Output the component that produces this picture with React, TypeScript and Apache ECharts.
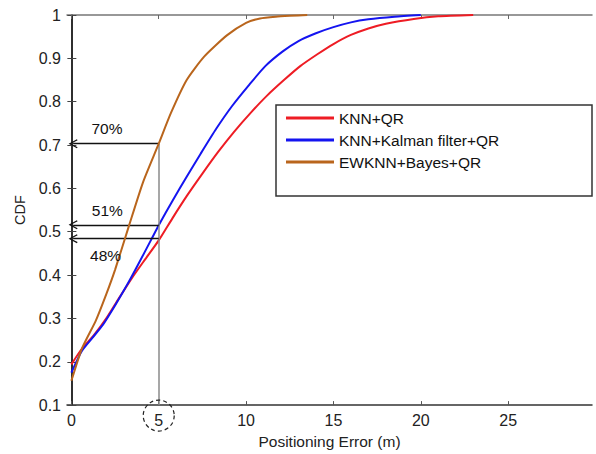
import React, { useEffect, useRef } from "react";
import * as echarts from "echarts";

const seriesNames = ["KNN+QR", "KNN+Kalman filter+QR", "EWKNN+Bayes+QR"];

const redX = [0, 0.6, 1.3, 2.0, 2.7, 3.5, 4.2, 5.0, 5.8, 6.6, 7.5, 8.4, 9.3, 10.3, 11.2, 12.2, 13.1, 14.1, 15.0, 16.0, 17.0, 18.0, 19.6, 21.0, 23.0];
const redY = [0.194, 0.23, 0.262, 0.3, 0.345, 0.395, 0.435, 0.48, 0.532, 0.582, 0.634, 0.684, 0.73, 0.776, 0.814, 0.851, 0.882, 0.91, 0.933, 0.954, 0.969, 0.98, 0.991, 0.997, 1.0];

const blueX = [0, 0.6, 1.2, 1.8, 2.5, 3.2, 3.7, 4.6, 5.0, 5.8, 6.6, 7.4, 8.3, 9.2, 10.2, 11.1, 12.1, 13.0, 14.0, 15.0, 16.0, 17.0, 18.5, 20.0];
const blueY = [0.175, 0.225, 0.255, 0.285, 0.33, 0.378, 0.415, 0.484, 0.515, 0.572, 0.627, 0.68, 0.738, 0.79, 0.84, 0.882, 0.916, 0.94, 0.958, 0.972, 0.983, 0.99, 0.996, 1.0];

const brownX = [0, 0.6, 1.4, 2.0, 2.5, 3.3, 4.1, 5.0, 5.7, 6.6, 7.6, 8.9, 10.0, 10.8, 11.7, 12.5, 13.5];
const brownY = [0.156, 0.23, 0.295, 0.356, 0.412, 0.514, 0.614, 0.703, 0.774, 0.85, 0.904, 0.953, 0.982, 0.992, 0.996, 0.998, 1.0];

const xTicks = [0, 5, 10, 15, 20, 25];

// annotation values: error threshold and CDF levels at that threshold
const markX = 5;
const markLevels = [0.703, 0.516, 0.484];
const markTexts = ["70%", "51%", "48%"];
const markTextPos = [
  [2.04, 0.737],
  [2.06, 0.549],
  [1.96, 0.446],
];

const colors = ["#ee1c24", "#1414f0", "#b9651c"];

const chevron = "path://M5,0 L10,9 L8.8,9.8 L5,2.6 L1.2,9.8 L0,9 Z";

const zip = (xs: number[], ys: number[]) => xs.map((x, i) => [x, ys[i]]);

export default function App() {
  const ref = useRef<HTMLDivElement>(null);
  useEffect(() => {
    if (!ref.current) return;
    const chart = echarts.init(ref.current, undefined, { renderer: "svg" });
    const font = "Liberation Sans, Arial, sans-serif";
    const xMin = -0.25;
    const xMax = 29.8;
    chart.setOption({
      animation: false,
      backgroundColor: "#ffffff",
      textStyle: { fontFamily: font },
      grid: { left: 67, top: 15, right: 4, bottom: 46 },
      legend: {
        data: seriesNames,
        orient: "vertical",
        left: 286,
        top: 110,
        padding: 0,
        itemWidth: 48,
        itemHeight: 3,
        itemGap: 6,
        icon: "rect",
        textStyle: { fontSize: 15.5, color: "#111", lineHeight: 16, fontFamily: font },
      },
      xAxis: [
        {
          type: "value",
          min: xMin,
          max: xMax,
          name: "Positioning Error (m)",
          nameLocation: "middle",
          nameGap: 26,
          nameTextStyle: { fontSize: 15.5, color: "#222", fontFamily: font },
          axisLine: { show: true, lineStyle: { color: "#333", width: 1.5 } },
          axisTick: { show: true, inside: true, length: 4, customValues: xTicks, lineStyle: { color: "#555" } },
          axisLabel: { customValues: xTicks, fontSize: 16, color: "#222", margin: 7, fontFamily: font },
          splitLine: { show: false },
        },
        {
          type: "value",
          position: "top",
          min: xMin,
          max: xMax,
          axisLine: { show: true, lineStyle: { color: "#777", width: 1.5 } },
          axisTick: { show: true, inside: true, length: 4, customValues: xTicks, lineStyle: { color: "#666" } },
          axisLabel: { show: false },
          splitLine: { show: false },
        },
      ],
      yAxis: [
        {
          type: "value",
          min: 0.1,
          max: 1,
          interval: 0.1,
          name: "CDF",
          nameLocation: "middle",
          nameGap: 40,
          nameTextStyle: { fontSize: 14.5, color: "#222", fontFamily: font },
          axisLine: { show: true, lineStyle: { color: "#222", width: 1.5 } },
          axisTick: { show: true, inside: true, length: 5, lineStyle: { color: "#444" } },
          axisLabel: {
            fontSize: 16,
            color: "#222",
            margin: 6,
            fontFamily: font,
            formatter: (v: number) => (Math.abs(v - 1) < 1e-9 ? "1" : v.toFixed(1)),
          },
          splitLine: { show: false },
        },
        {
          type: "value",
          position: "right",
          min: 0.1,
          max: 1,
          interval: 0.1,
          axisLine: { show: true, lineStyle: { color: "#222", width: 1.5 } },
          axisTick: { show: true, inside: true, length: 4, lineStyle: { color: "#444" } },
          axisLabel: { show: false },
          splitLine: { show: false },
        },
      ],
      series: [
        {
          name: seriesNames[0],
          type: "line",
          data: zip(redX, redY),
          showSymbol: false,
          smooth: 0.2,
          color: colors[0],
          lineStyle: { width: 2, color: colors[0] },
          z: 3,
        },
        {
          name: seriesNames[1],
          type: "line",
          data: zip(blueX, blueY),
          showSymbol: false,
          smooth: 0.2,
          color: colors[1],
          lineStyle: { width: 2, color: colors[1] },
          z: 4,
        },
        {
          name: seriesNames[2],
          type: "line",
          data: zip(brownX, brownY),
          showSymbol: false,
          smooth: 0.2,
          color: colors[2],
          lineStyle: { width: 2, color: colors[2] },
          z: 5,
        },
        {
          name: "annotations",
          type: "scatter",
          symbolSize: 0,
          data: markTextPos.map((p, i) => [p[0], p[1], markTexts[i]]),
          itemStyle: { opacity: 1, color: "#000" },
          label: {
            show: true,
            position: [0, 0],
            align: "center",
            verticalAlign: "middle",
            formatter: (p: any) => p.value[2],
            fontSize: 15.5,
            color: "#111",
            textBorderWidth: 0,
            textBorderColor: "transparent",
            fontFamily: font,
          },
          silent: true,
          z: 6,
          markLine: {
            silent: true,
            animation: false,
            label: { show: false },
            data: [
              [
                { coord: [markX, 0.1], symbol: "none", lineStyle: { color: "#8a8a8a", width: 1.5, type: "solid" } },
                { coord: [markX, markLevels[0]], symbol: "none" },
              ],
              ...markLevels.map((lv) => [
                {
                  coord: [markX, lv],
                  symbol: "none",
                  lineStyle: { color: "#111", width: 1.3, type: "solid" },
                  itemStyle: { color: "#111" },
                },
                { coord: [0.1, lv], symbol: chevron, symbolSize: [9, 9], itemStyle: { color: "#111" } },
              ]),
            ],
          },
        },
      ],
    });

    const p = chart.convertToPixel({ xAxisIndex: 0, yAxisIndex: 0 }, [markX, 0.1]) as number[];
    chart.setOption({
      graphic: [
        {
          type: "rect",
          shape: { x: 276, y: 105, width: 316, height: 91 },
          style: { fill: "none", stroke: "#333", lineWidth: 1.5 },
          z: 10,
        },
        {
          type: "circle",
          shape: { cx: p[0], cy: p[1] + 10.5, r: 15.5 },
          style: { fill: "none", stroke: "#222", lineWidth: 1.2, lineDash: [4, 3] },
          z: 10,
        },
      ],
    });

    return () => chart.dispose();
  }, []);
  return (
    <div
      ref={ref}
      style={{ position: "fixed", left: 0, top: 0, width: 596, height: 454, background: "#fff" }}
    />
  );
}
